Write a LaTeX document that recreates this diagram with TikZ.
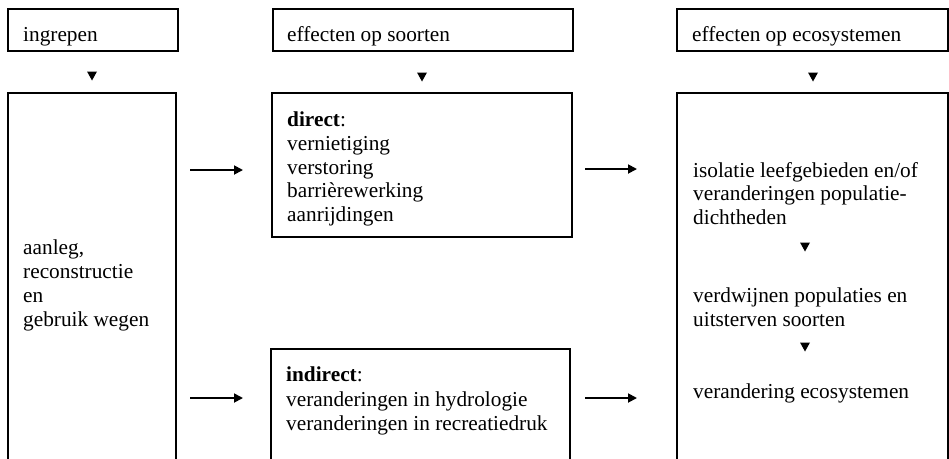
\documentclass[tikz,border=0pt]{standalone}
\usepackage{fontspec}
\setmainfont{Liberation Serif}
\usetikzlibrary{arrows.meta}
\newcommand\dtri[1]{\fill ([shift={(-5,-4.5)}]#1) -- ([shift={(5,-4.5)}]#1) -- ([shift={(0,4.5)}]#1) -- cycle;}
\begin{document}
\begin{tikzpicture}[x=1pt,y=-1pt,
  box/.style={draw, line width=1.8pt, inner sep=0pt, outer sep=0pt, anchor=north west},
  txt/.style={anchor=base west, inner sep=0pt, font=\fontsize{21.3}{24}\selectfont},
  arr/.style={line width=1.8pt, -{Triangle[length=9pt,width=9pt]}}]
\useasboundingbox[fill=white] (0,0) rectangle (949,458);
\begin{scope}
\clip (0,0) rectangle (949,458);
% boxes
\node[box, minimum width=170pt, minimum height=42pt] (T1) at (8,9) {};
\node[box, minimum width=300pt, minimum height=42pt] (T2) at (273,9) {};
\node[box, minimum width=271pt, minimum height=42pt] (T3) at (677,9) {};
\node[box, minimum width=168pt, minimum height=372pt] (L) at (8,93) {};
\node[box, minimum width=300pt, minimum height=144pt] (D) at (272,93) {};
\node[box, minimum width=299pt, minimum height=116pt] (I) at (271,349) {};
\node[box, minimum width=271pt, minimum height=372pt] (R) at (677,93) {};
\end{scope}
% header texts
\node[txt] (h1) at (23,41) {ingrepen};
\node[txt] (h2) at (287,41) {effecten op soorten};
\node[txt] (h3) at (692,41) {effecten op ecosystemen};
% left box
\node[txt] (l1) at (23,254) {aanleg,};
\node[txt] (l2) at (23,278) {reconstructie};
\node[txt] (l3) at (23,302) {en};
\node[txt] (l4) at (23,326) {gebruik wegen};
% direct box
\node[txt] (d0) at (287,126) {\textbf{direct}:};
\node[txt] (d1) at (287,150) {vernietiging};
\node[txt] (d2) at (287,174) {verstoring};
\node[txt] (d3) at (287,197) {barrièrewerking};
\node[txt] (d4) at (287,221) {aanrijdingen};
% indirect box
\node[txt] (i0) at (286,381) {\textbf{indirect}:};
\node[txt] (i1) at (286,406) {veranderingen in hydrologie};
\node[txt] (i2) at (286,430) {veranderingen in recreatiedruk};
% right box
\node[txt] (r1) at (693,177) {isolatie leefgebieden en/of};
\node[txt] (r2) at (693,200) {veranderingen populatie-};
\node[txt] (r3) at (693,224) {dichtheden};
\node[txt] (r4) at (693,302) {verdwijnen populaties en};
\node[txt] (r5) at (693,326) {uitsterven soorten};
\node[txt] (r6) at (693,398) {verandering ecosystemen};
% downward triangles
\coordinate (t1) at (92,76);
\coordinate (t2) at (422,77);
\coordinate (t3) at (813,77);
\coordinate (t4) at (805,247);
\coordinate (t5) at (805,347);
\dtri{t1}\dtri{t2}\dtri{t3}\dtri{t4}\dtri{t5}
% arrows
\draw[arr, shorten <=14pt, shorten >=29pt] (L.east |- 0,170) -- (D.west |- 0,170);
\draw[arr, shorten <=14pt, shorten >=28pt] (L.east |- 0,398) -- (I.west |- 0,398);
\draw[arr, shorten <=13pt, shorten >=40pt] (D.east |- 0,169) -- (R.west |- 0,169);
\draw[arr, shorten <=15pt, shorten >=40pt] (I.east |- 0,398) -- (R.west |- 0,398);
\end{tikzpicture}
\end{document}
